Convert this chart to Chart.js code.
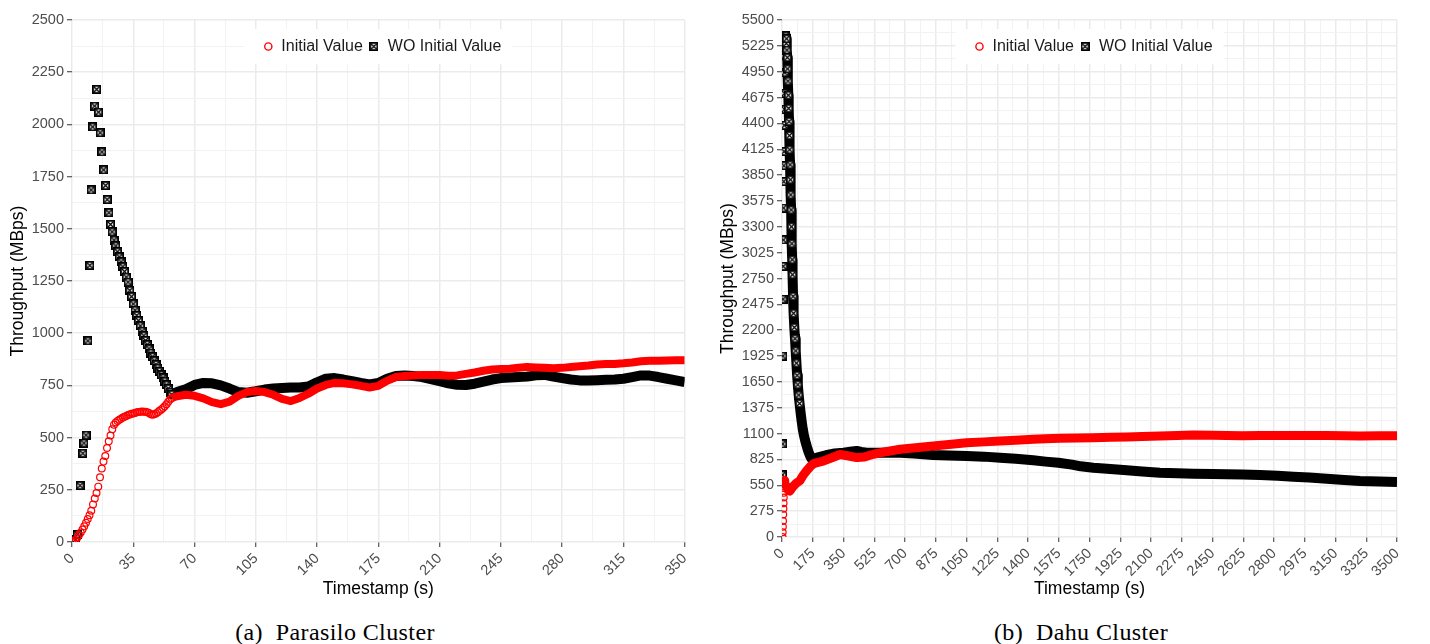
<!DOCTYPE html>
<html>
<head>
<meta charset="utf-8">
<script src="https://cdn.jsdelivr.net/npm/chart.js@4.4.0/dist/chart.umd.min.js"></script>
<style>
  body { margin: 0; background: #fff; width: 1430px; height: 644px; position: relative; overflow: hidden; }
  .box { position: absolute; top: 0; height: 600px; }
  #leftBox { left: 0; width: 700px; }
  #rightBox { left: 710px; width: 720px; }
  .cap { position: absolute; top: 618px; font-family: 'Liberation Serif', serif; font-size: 24px; color: #000;
         letter-spacing: 0.4px; transform: translateX(-50%); white-space: pre; line-height: 28px; }
</style>
</head>
<body>
<div class="box" id="leftBox"><canvas id="parasilo"></canvas></div>
<div class="box" id="rightBox"><canvas id="dahu"></canvas></div>
<div class="cap" style="left:335px">(a)  Parasilo Cluster</div>
<div class="cap" style="left:1081px">(b)  Dahu Cluster</div>

<script>
// ---- Parasilo cluster (left) ----
var parasiloRedT = [0,1,2,3,4,5,6,7,8,9,10,11,12,13,14,15,16,17,18,19,20,21,22,23,24,25,26,27,28,29,
  30,31,32,33,34,35,36,37,38,39,40,41,42,43,44,45,46,47,48,49,50,51,52,53,54,55,56,57,
  60,65,70,75,80,85,90,95,100,105,110,115,120,125,130,135,140,145,150,155,160,165,170,175,180,185,190,195,
  200,205,210,215,220,225,230,235,240,245,250,255,260,265,270,275,280,285,290,295,300,305,310,315,320,325,
  330,335,340,345,350];
var parasiloRedV = [0,3,10,20,33,45,60,75,92,110,128,150,180,208,235,265,310,352,385,412,450,482,510,540,562,572,580,585,590,596,
  600,604,608,611,614,616,618,621,623,624,625,624,624,622,618,612,610,612,616,622,628,635,642,650,660,672,682,690,
  698,705,700,688,670,660,672,700,718,723,718,705,685,675,690,710,735,752,762,760,755,748,740,748,772,790,795,797,
  800,800,800,796,798,805,812,820,826,828,830,835,838,836,834,832,834,838,842,845,850,852,853,856,860,866,
  868,868,869,870,870];

var parasiloBlackT = [2,3,4.6,6.2,6.8,8,9.1,10.2,10.9,11.8,12.9,14.1,15.2,16.1,17.1,18.1,19.2,20.1,21.1,22,22.9,
  24,25,26,27,28,29,30,31,32,33,34,35,36,37,38,39,40,41,42,43,44,45,46,47,48,49,50,51,52,53,54,55,56,57,
  60,65,70,75,80,85,90,95,100,105,110,115,120,125,130,135,140,145,150,155,160,165,170,175,180,185,190,195,
  200,205,210,215,220,225,230,235,240,245,250,255,260,265,270,275,280,285,290,295,300,305,310,315,320,325,
  330,335,340,345,350];
var parasiloBlackV = [12,37,270,425,474,512,963,1325,1686,1988,2088,2168,2059,1960,1868,1782,1707,1640,1577,1521,1485,
  1446,1418,1390,1365,1341,1318,1295,1269,1245,1205,1175,1140,1110,1085,1060,1035,1010,988,965,945,925,905,887,868,850,833,817,800,786,770,752,735,718,707,
  718,732,752,762,760,750,735,718,715,722,730,735,738,740,740,745,765,782,785,778,770,762,755,762,782,795,797,795,
  790,780,770,760,753,752,758,768,778,785,788,790,792,798,800,792,785,778,774,773,775,777,778,782,790,798,
  797,790,782,774,766];

// ---- Dahu cluster (right) ----
var dahuRedT = [3,4,5,6,7,8,9,10,11,12,13,14,15,16,18,
  25,35,45,60,80,102,120,140,160,178,200,235,280,330,380,425,470,520,600,672,
  760,861,950,1051,1150,1241,1330,1430,1500,1582,1680,1772,1870,1962,2050,2151,2250,2341,2450,2531,
  2620,2720,2820,2910,3000,3100,3200,3290,3400,3500];
var dahuRedV = [0,50,110,170,240,300,360,420,470,520,560,590,600,580,560,
  540,500,489,530,570,600,655,705,748,778,792,808,840,878,862,845,852,880,910,933,
  950,968,985,1003,1012,1021,1030,1039,1045,1050,1052,1056,1060,1064,1070,1074,1080,1085,1082,1080,
  1078,1080,1080,1080,1080,1080,1078,1074,1076,1076];

var dahuBlackT = [3,4,5,6,7,8,9,10,11,12,13,14,15,16,17,18,
  20,22,24,26,28,30,32,34,36,38,40,42,44,46,48,50,52,54,56,58,60,63,66,70,74,78,82,86,90,95,100,
  106,112,118,124,130,137,144,152,160,168,176,
  200,250,300,350,400,425,450,482,550,600,672,750,861,950,1051,1150,1241,1330,1430,1500,
  1573,1650,1700,1772,1850,1962,2050,2151,2250,2341,2450,2531,2620,2720,2820,2910,3000,3100,3200,3290,3400,3500];
var dahuBlackV = [660,990,1925,2530,2880,3160,3500,3780,3950,4100,4380,4550,4720,4940,5120,5300,
  5280,5330,5250,5300,5180,5100,4980,4850,4700,4560,4420,4270,4120,3960,3800,3640,3480,3300,3120,2950,2790,2560,2380,2230,2110,1980,1850,1720,1620,1510,1420,
  1320,1230,1150,1090,1040,990,945,900,862,835,826,
  845,870,888,897,910,915,905,897,897,900,897,888,872,868,862,855,844,832,816,802,
  790,770,752,737,725,709,697,684,678,674,670,667,664,660,652,642,632,620,606,596,590,585];

var seriesNames = ['Initial Value', 'WO Initial Value'];

Chart.defaults.font.family = "'Liberation Sans', Arial, sans-serif";
Chart.defaults.animation = false;

function pts(t, v) {
  return t.map(function (x, i) { return {x: x, y: v[i]}; });
}

function isMajor(v, major) {
  return Math.abs(v / major - Math.round(v / major)) < 1e-6;
}

// square with a cross inside (ggplot shape 7)
function boxCross(size) {
  var c = document.createElement('canvas');
  c.width = size; c.height = size;
  var g = c.getContext('2d');
  g.fillStyle = '#000';
  g.fillRect(0, 0, size, size);
  g.fillStyle = '#fff';
  g.fillRect(1.8, 1.8, size - 3.6, size - 3.6);
  g.strokeStyle = '#000';
  g.lineWidth = 1.3;
  g.beginPath();
  g.moveTo(2, 2); g.lineTo(size - 2, size - 2);
  g.moveTo(size - 2, 2); g.lineTo(2, size - 2);
  g.stroke();
  return c;
}
var squareMark = boxCross(9);

// legend drawn inside the plot, like ggplot's legend.position inside
var insideLegend = {
  id: 'insideLegend',
  afterDraw: function (chart) {
    var ctx = chart.ctx, area = chart.chartArea;
    ctx.save();
    ctx.font = "16px 'Liberation Sans', Arial, sans-serif";
    var w1 = ctx.measureText(seriesNames[0]).width;
    var w2 = ctx.measureText(seriesNames[1]).width;
    var total = 24 + 13 + w1 + 11 + 14 + w2 + 11;
    var left = (area.left + area.right) / 2 - total / 2;
    var top = area.top + 9, h = 35, cy = top + h / 2;
    ctx.fillStyle = '#fff';
    ctx.fillRect(left, top, total, h);
    // red ring
    ctx.beginPath();
    ctx.arc(left + 24, cy, 3.6, 0, Math.PI * 2);
    ctx.strokeStyle = '#ff0000';
    ctx.lineWidth = 1.4;
    ctx.stroke();
    ctx.fillStyle = '#1a1a1a';
    ctx.textBaseline = 'middle';
    ctx.fillText(seriesNames[0], left + 37, cy);
    var sx = left + 37 + w1 + 11;
    ctx.drawImage(squareMark, sx - 4.5, cy - 4.5);
    ctx.fillStyle = '#1a1a1a';
    ctx.fillText(seriesNames[1], sx + 14, cy);
    ctx.restore();
  }
};

function redSet(t, v, lineFrom, markTo, width) {
  return {
    label: seriesNames[0],
    data: pts(t, v),
    showLine: true,
    borderColor: '#ff0000',
    borderWidth: width,
    borderJoinStyle: 'round',
    pointStyle: 'circle',
    pointRadius: function (c) { return c.raw && c.raw.x <= markTo ? 3.4 : 0; },
    pointBorderColor: '#ff0000',
    pointBackgroundColor: 'rgba(0,0,0,0)',
    pointBorderWidth: 1.2,
    segment: {
      borderColor: function (c) { return c.p0.parsed.x >= lineFrom ? '#ff0000' : 'rgba(0,0,0,0)'; }
    }
  };
}

function blackSet(t, v, lineFrom, markTo) {
  return {
    label: seriesNames[1],
    data: pts(t, v),
    showLine: true,
    borderColor: '#000',
    borderWidth: 10,
    borderJoinStyle: 'round',
    pointStyle: squareMark,
    pointRadius: function (c) { return c.raw && c.raw.x <= markTo ? 4 : 0; },
    segment: {
      borderColor: function (c) { return c.p0.parsed.x >= lineFrom ? '#000' : 'rgba(0,0,0,0)'; }
    }
  };
}

function axis(max, step, major, title, size) {
  return {
    type: 'linear', min: 0, max: max,
    border: { display: false },
    ticks: {
      stepSize: step, autoSkip: false, color: '#4d4d4d', padding: 3,
      font: { size: 14.5 },
      callback: function (v) { return isMajor(v, major) ? String(v) : ''; }
    },
    grid: {
      color: function (c) { return c.tick && isMajor(c.tick.value, major) ? '#ebebeb' : '#f2f2f2'; },
      lineWidth: function (c) { return c.tick && isMajor(c.tick.value, major) ? 1.5 : 1; },
      tickColor: function (c) { return c.tick && isMajor(c.tick.value, major) ? '#333' : 'rgba(0,0,0,0)'; },
      tickLength: 5,
      tickWidth: 1
    },
    title: { display: true, text: title, color: '#000', font: { size: 17.5 }, padding: { top: 8, bottom: 3 } },
    afterFit: function (s) { if (s.isHorizontal()) s.height = size; else s.width = size; }
  };
}

function makeChart(id, datasets, xMax, xStep, xMajor, yMax, yStep, yMajor, xH, padRight) {
  var xs = axis(xMax, xStep, xMajor, 'Timestamp (s)', xH);
  xs.ticks.minRotation = 45;
  xs.ticks.maxRotation = 45;
  xs.title.padding = { top: 0, bottom: 0 };
  return new Chart(document.getElementById(id), {
    type: 'scatter',
    data: { datasets: datasets },
    options: {
      responsive: true,
      maintainAspectRatio: false,
      layout: { padding: { top: 20, right: padRight, bottom: 0, left: 0 } },
      plugins: { legend: { display: false }, tooltip: { enabled: false } },
      scales: {
        x: xs,
        y: axis(yMax, yStep, yMajor, 'Throughput (MBps)', 72)
      }
    },
    plugins: [insideLegend]
  });
}

makeChart('parasilo',
  [redSet(parasiloRedT, parasiloRedV, 57, 57, 8), blackSet(parasiloBlackT, parasiloBlackV, 57, 57)],
  350, 17.5, 35, 2500, 125, 250, 58, 14);

makeChart('dahu',
  [redSet(dahuRedT, dahuRedV, 14, 18, 9), blackSet(dahuBlackT, dahuBlackV, 20, 100)],
  3500, 87.5, 175, 5500, 137.5, 275, 63, 33);
</script>
</body>
</html>
